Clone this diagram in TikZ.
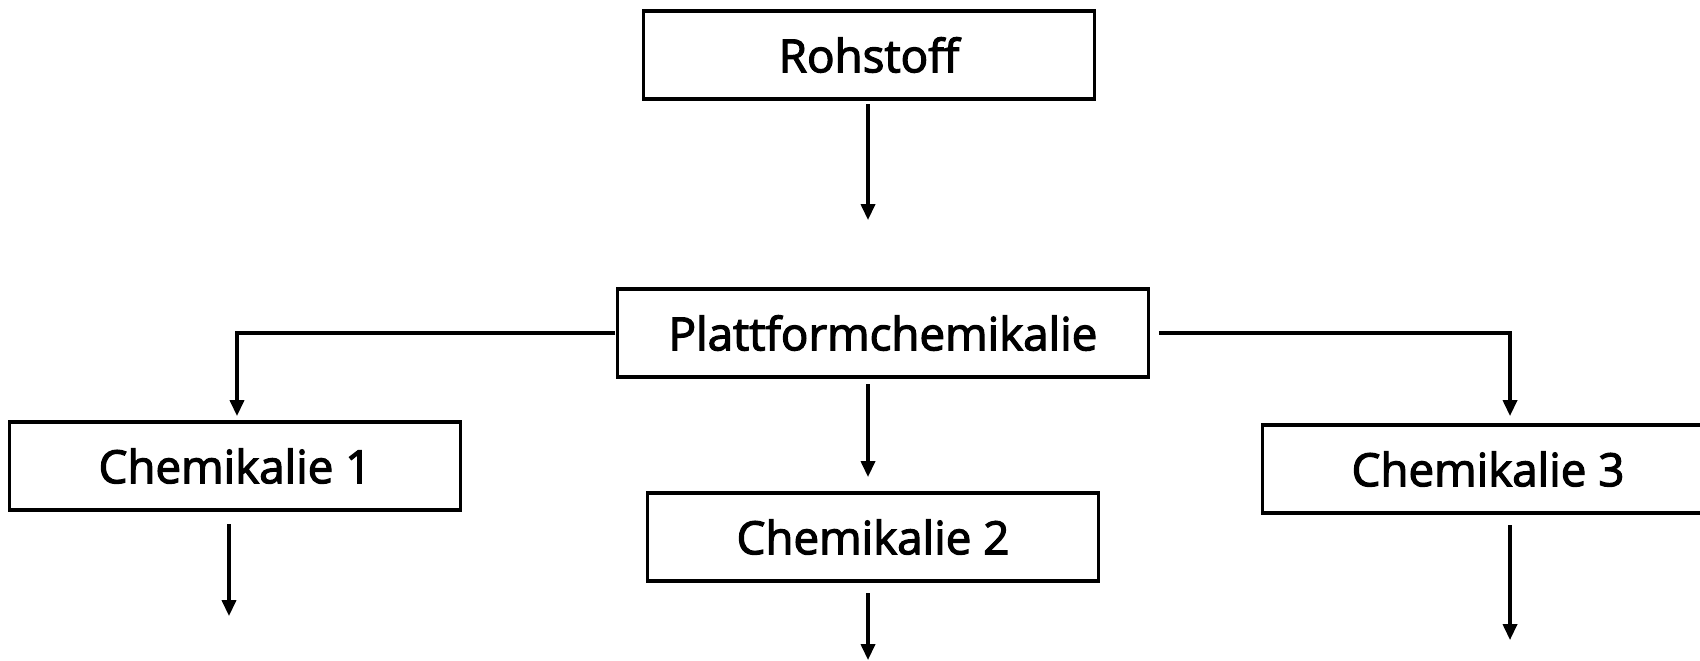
\documentclass[tikz,border=0pt]{standalone}
\usepackage{fontspec}
\setmainfont{Open Sans}
\newfontfamily\boxfont[FakeBold=2.6]{Open Sans}
\usetikzlibrary{arrows.meta}

\tikzset{
  chembox/.style = {draw, line width=0.9pt, minimum height=0.88cm, inner sep=0pt, font=\boxfont\fontsize{13}{15}\selectfont},
  flow/.style    = {line width=0.9pt, -{Triangle[length=4.5pt, width=4pt]}}
}

\begin{document}
\begin{tikzpicture}[x=0.01cm, y=-0.01cm]
	\useasboundingbox (0,0) rectangle (1700,660);
	% boxes
	\node[chembox, minimum width=4.5cm] (roh) at (869,55) {Rohstoff};
	\node[chembox, minimum width=5.3cm] (platt) at (883,333) {Plattformchemikalie};
	\node[chembox, minimum width=4.5cm] (chemA) at (235,466) {Chemikalie 1};
	\node[chembox, minimum width=4.5cm] (chemB) at (873,537) {Chemikalie 2};
	\node[chembox, minimum width=4.5cm] (chemC) at (1488,469) {Chemikalie 3};
	
	% free ends
	\coordinate (rohEnd) at (868,220);
	\coordinate (plattEnd) at (868,477);
	\coordinate (leftEnd) at (237,416);
	\coordinate (rightEnd) at (1510,416);
	\coordinate (chemAEnd) at (229,616);
	\coordinate (chemBEnd) at (868,660);
	\coordinate (chemCEnd) at (1510,640);
	
	\draw[flow] (868,104) -- (rohEnd);
	\draw[flow] (868,384) -- (plattEnd);
	\draw[flow] ([xshift=-0.01cm]platt.west) -| (leftEnd);
	\draw[flow] ([xshift=0.09cm]platt.east) -| (rightEnd);
	\draw[flow] (229,524) -- (chemAEnd);
	\draw[flow] (868,593) -- (chemBEnd);
	\draw[flow] (1510,525) -- (chemCEnd);
\end{tikzpicture}
\end{document}
